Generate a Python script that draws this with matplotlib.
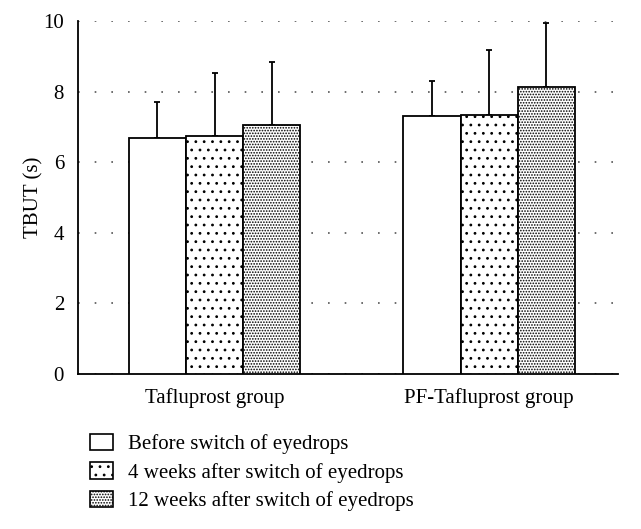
import numpy as np
import matplotlib.pyplot as plt
from matplotlib.patches import Patch

plt.rcParams["font.family"] = ["Liberation Serif", "DejaVu Serif"]
plt.rcParams["hatch.linewidth"] = 0.8

groups = ["Tafluprost group", "PF-Tafluprost group"]
series = ["Before switch of eyedrops",
          "4 weeks after switch of eyedrops",
          "12 weeks after switch of eyedrops"]
means = [[6.69, 7.31],
         [6.74, 7.34],
         [7.05, 8.13]]
sds = [[1.02, 0.99],
       [1.79, 1.84],
       [1.79, 1.81]]
hatches = ["", "..", "......"]

fig = plt.figure(figsize=(6.41, 5.29), dpi=100)
ax = fig.add_axes([0.1217, 0.293, 0.842, 0.667])

centers = np.array([0, 4.8])
w = 1.0
for i in range(3):
    x = centers + (i - 1) * w
    ax.bar(x, means[i], width=w, color="white", edgecolor="black",
           linewidth=1.3, hatch=hatches[i], zorder=3)
    ax.errorbar(x, means[i], yerr=[np.zeros(2), sds[i]], fmt="none",
                ecolor="black", elinewidth=1.3, capsize=2, capthick=1.3, zorder=2)

ax.set_xlim(-2.39, 7.05)
ax.set_ylim(0, 10)
ax.set_yticks([0, 2, 4, 6, 8, 10])
ax.set_xticks(centers)
ax.set_xticklabels(groups)
ax.tick_params(length=0, labelsize=15, pad=10)
ax.set_ylabel("TBUT (s)", fontsize=15, labelpad=0)
ax.yaxis.grid(True, linestyle=(0, (1, 9)), color="#555555", linewidth=1.2)
ax.set_axisbelow(True)
for s in ["top", "right"]:
    ax.spines[s].set_visible(False)
for s in ["left", "bottom"]:
    ax.spines[s].set_linewidth(1.3)

handles = [Patch(facecolor="white", edgecolor="black", hatch=h, linewidth=1.2)
           for h in hatches]
fig.legend(handles, series, loc="upper left", bbox_to_anchor=(0.127, 0.196),
           frameon=False, fontsize=15, handlelength=1.1, handleheight=0.82,
           labelspacing=0.4, handletextpad=0.72, borderaxespad=0)

fig.savefig("out.png", dpi=100)
